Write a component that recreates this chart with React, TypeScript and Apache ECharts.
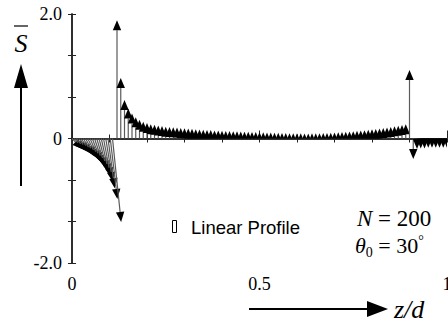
import React, { useEffect, useRef } from "react";
import * as echarts from "echarts";

// Director tilt arrows (quiver) along the cell thickness z/d.
// Near the left substrate the arrows point down and lean to the right.
const negZStart = [0, 0.006, 0.012, 0.018, 0.024, 0.03, 0.036, 0.042, 0.048, 0.054, 0.06, 0.066, 0.072, 0.078, 0.084, 0.09, 0.096, 0.102, 0.108];
const negZEnd = [0.028, 0.034, 0.04, 0.046, 0.052, 0.058, 0.063, 0.069, 0.074, 0.079, 0.084, 0.089, 0.094, 0.099, 0.104, 0.109, 0.114, 0.121, 0.131];
const negS = [-0.17, -0.19, -0.21, -0.23, -0.25, -0.28, -0.3, -0.33, -0.36, -0.39, -0.43, -0.47, -0.52, -0.57, -0.63, -0.7, -0.8, -0.97, -1.34];

// Upward arrows through the bulk, ending in the spike at z/d = 0.9
const posZ = [
  0.12, 0.13, 0.14, 0.15, 0.16, 0.17, 0.18, 0.19, 0.2, 0.21,
  0.22, 0.23, 0.24, 0.25, 0.26, 0.27, 0.28, 0.29, 0.3, 0.31,
  0.32, 0.33, 0.34, 0.35, 0.36, 0.37, 0.38, 0.39, 0.4, 0.41,
  0.42, 0.43, 0.44, 0.45, 0.46, 0.47, 0.48, 0.49, 0.5, 0.51,
  0.52, 0.53, 0.54, 0.55, 0.56, 0.57, 0.58, 0.59, 0.6, 0.61,
  0.62, 0.63, 0.64, 0.65, 0.66, 0.67, 0.68, 0.69, 0.7, 0.71,
  0.72, 0.73, 0.74, 0.75, 0.76, 0.77, 0.78, 0.79, 0.8, 0.81,
  0.82, 0.83, 0.84, 0.85, 0.86, 0.87, 0.88, 0.89, 0.9,
];
const posS = [
  1.9, 0.97, 0.62, 0.48, 0.4, 0.34, 0.3, 0.27, 0.25, 0.23,
  0.22, 0.21, 0.2, 0.19, 0.185, 0.18, 0.175, 0.17, 0.165, 0.16,
  0.155, 0.15, 0.145, 0.14, 0.138, 0.135, 0.13, 0.128, 0.125, 0.122,
  0.12, 0.118, 0.115, 0.112, 0.11, 0.108, 0.106, 0.104, 0.102, 0.1,
  0.098, 0.096, 0.094, 0.092, 0.09, 0.088, 0.086, 0.085, 0.084, 0.083,
  0.082, 0.082, 0.083, 0.084, 0.086, 0.088, 0.09, 0.093, 0.096, 0.1,
  0.104, 0.108, 0.113, 0.118, 0.123, 0.128, 0.134, 0.14, 0.147, 0.154,
  0.162, 0.17, 0.178, 0.186, 0.195, 0.205, 0.215, 0.23, 1.1,
];

// Downward arrows next to the right substrate
const tailZ = [0.91, 0.92, 0.93, 0.94, 0.95, 0.96, 0.97, 0.98, 0.99, 1.0];
const tailS = [-0.33, -0.17, -0.16, -0.16, -0.15, -0.15, -0.15, -0.15, -0.15, -0.15];

const yLabels: Record<string, string> = { "2": "2.0", "0": "0", "-2": "-2.0" };

export default function App() {
  const ref = useRef<HTMLDivElement>(null);

  useEffect(() => {
    if (!ref.current) return;
    const chart = echarts.init(ref.current, undefined, { renderer: "svg" });

    const arrows: number[][] = [];
    negZStart.forEach((z, i) => arrows.push([z, negZEnd[i], negS[i]]));
    posZ.forEach((z, i) => arrows.push([z, z, posS[i]]));
    tailZ.forEach((z, i) => arrows.push([z, z, tailS[i]]));

    const serif = "'Liberation Serif', 'Times New Roman', serif";
    const axisLine = { lineStyle: { color: "#222", width: 1.5 } };

    const renderArrow = (_params: any, api: any) => {
      const p0 = api.coord([api.value(0), 0]);
      const p1 = api.coord([api.value(1), api.value(2)]);
      const dx = p1[0] - p0[0];
      const dy = p1[1] - p0[1];
      const len = Math.hypot(dx, dy) || 1;
      const ux = dx / len;
      const uy = dy / len;
      const headLen = Math.min(10, len);
      const half = headLen * 0.42;
      const bx = p1[0] - ux * headLen;
      const by = p1[1] - uy * headLen;
      const nx = -uy;
      const ny = ux;
      return {
        type: "group",
        children: [
          {
            type: "line",
            shape: { x1: p0[0], y1: p0[1], x2: bx, y2: by },
            style: { stroke: "#5a5a5a", lineWidth: 1.2 },
          },
          {
            type: "polygon",
            shape: {
              points: [
                [p1[0], p1[1]],
                [bx + nx * half, by + ny * half],
                [bx - nx * half, by - ny * half],
              ],
            },
            style: { fill: "#000" },
          },
        ],
      };
    };

    chart.setOption({
      animation: false,
      backgroundColor: "#fff",
      grid: { left: 72, top: 14, width: 375, height: 249, outerBoundsMode: "none" },
      xAxis: [
        {
          type: "value",
          position: "bottom",
          min: 0,
          max: 1,
          interval: 0.5,
          axisLine,
          axisTick: { inside: true, length: 8, lineStyle: { color: "#222" } },
          minorTick: { show: true, splitNumber: 5, length: 4, lineStyle: { color: "#222" } },
          splitLine: { show: false },
          axisLabel: {
            margin: 12,
            fontFamily: serif,
            fontSize: 18,
            color: "#000",
            alignMinLabel: "center",
            alignMaxLabel: "center",
            hideOverlap: false,
            formatter: (v: number) => (Math.abs(v - 0.5) < 1e-6 ? "0.5" : String(Math.round(v))),
          },
        },
        {
          type: "value",
          position: "top",
          min: 0,
          max: 1,
          interval: 0.1,
          axisLine,
          axisTick: { inside: true, length: 4, lineStyle: { color: "#222" } },
          splitLine: { show: false },
          axisLabel: { show: false },
        },
      ],
      yAxis: [
        {
          type: "value",
          position: "left",
          min: -2,
          max: 2,
          interval: 2 / 3,
          axisLine,
          axisTick: { inside: true, length: 4, lineStyle: { color: "#222" } },
          splitLine: { show: false },
          axisLabel: {
            margin: 10,
            fontFamily: serif,
            fontSize: 18,
            color: "#000",
            formatter: (v: number) => yLabels[String(Math.round(v * 1000) / 1000)] ?? "",
          },
        },
        {
          type: "value",
          position: "right",
          min: -2,
          max: 2,
          interval: 2 / 3,
          axisLine,
          axisTick: { inside: true, length: 4, lineStyle: { color: "#222" } },
          splitLine: { show: false },
          axisLabel: { show: false },
        },
      ],
      series: [
        {
          type: "custom",
          xAxisIndex: 0,
          yAxisIndex: 0,
          clip: true,
          dimensions: ["z0", "z1", "S"],
          encode: { x: [0, 1], y: 2 },
          data: arrows,
          renderItem: renderArrow,
        },
      ],
      graphic: [
        // y-axis symbol: S with an overbar, and an upward arrow
        { type: "line", shape: { x1: 14, y1: 26, x2: 28, y2: 26 }, style: { stroke: "#000", lineWidth: 1.2 } },
        {
          type: "text",
          x: 21,
          y: 43,
          style: { text: "S", font: `italic 26px ${serif}`, fill: "#000", align: "center", verticalAlign: "middle" },
        },
        { type: "line", shape: { x1: 21, y1: 86, x2: 21, y2: 186 }, style: { stroke: "#000", lineWidth: 2 } },
        { type: "polygon", shape: { points: [[21, 64], [14, 88], [28, 88]] }, style: { fill: "#000" } },
        // x-axis symbol: arrow and z/d
        { type: "line", shape: { x1: 249, y1: 309, x2: 370, y2: 309 }, style: { stroke: "#000", lineWidth: 2 } },
        { type: "polygon", shape: { points: [[388, 309], [367, 301], [367, 317]] }, style: { fill: "#000" } },
        {
          type: "text",
          x: 394,
          y: 309,
          style: { text: "z/d", font: `italic 26px ${serif}`, fill: "#000", verticalAlign: "middle" },
        },
        // legend
        { type: "rect", shape: { x: 172.5, y: 220.5, width: 4, height: 12 }, style: { fill: "none", stroke: "#000", lineWidth: 1 } },
        {
          type: "text",
          x: 191,
          y: 227,
          style: {
            text: "Linear Profile",
            font: "18.5px 'Liberation Sans', Arial, sans-serif",
            fill: "#000",
            verticalAlign: "middle",
          },
        },
        // parameters
        {
          type: "text",
          x: 357,
          y: 218,
          style: {
            text: "{i|N} = 200",
            font: `23px ${serif}`,
            fill: "#000",
            verticalAlign: "middle",
            rich: { i: { font: `italic 23px ${serif}`, fill: "#000" } },
          },
        },
        {
          type: "text",
          x: 355,
          y: 245,
          style: {
            text: "{i|θ}{sub|0} = 30{sup|°}",
            font: `22px ${serif}`,
            fill: "#000",
            verticalAlign: "middle",
            rich: {
              i: { font: `italic 22px ${serif}`, fill: "#000" },
              sub: { font: `14px ${serif}`, fill: "#000", padding: [14, 0, 0, 0] },
              sup: { font: `14px ${serif}`, fill: "#000", padding: [0, 0, 10, 0] },
            },
          },
        },
      ],
    });

    return () => chart.dispose();
  }, []);

  return (
    <div
      ref={ref}
      style={{ position: "fixed", left: 0, top: 0, width: 448, height: 331, background: "#fff" }}
    />
  );
}
